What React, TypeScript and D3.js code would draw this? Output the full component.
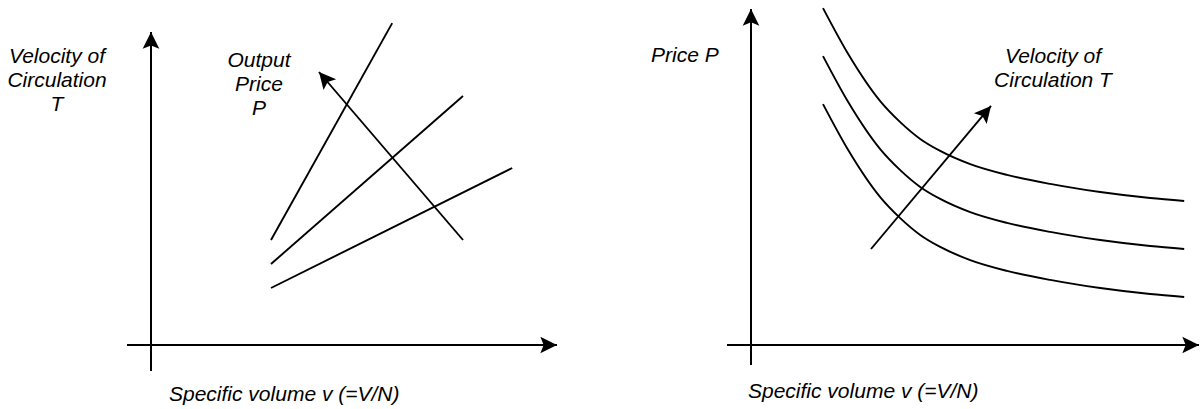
import React from "react";
import * as d3 from "d3";

// ---- left panel: velocity T vs specific volume v, one line per output price P ----
// each line is [v, T] at its two ends
const priceLineHigh = [[3.0, 3.5], [6.03, 10.73]];
const priceLineMid = [[3.0, 2.7], [7.8, 8.3]];
const priceLineLow = [[3.0, 1.9], [9.03, 5.9]];
const priceArrow = [[7.8, 3.5], [4.2, 9.1]];
const leftVRange = [-0.6, 10.15];
const leftTRange = [-0.87, 10.43];

// ---- right panel: price P vs specific volume v, one curve per velocity T ----
const volume = [1.8, 2.43, 3.23, 3.73, 4.23, 4.73, 5.48, 6.4, 7.48, 8.73, 9.98, 10.83];
const priceHighT = [11.23, 9.7, 8.13, 7.43, 6.87, 6.47, 6.03, 5.67, 5.37, 5.1, 4.9, 4.8];
const priceMidT = [9.63, 8.1, 6.53, 5.83, 5.27, 4.87, 4.43, 4.07, 3.77, 3.5, 3.3, 3.2];
const priceLowT = [8.03, 6.5, 4.93, 4.23, 3.67, 3.27, 2.83, 2.47, 2.17, 1.9, 1.7, 1.6];
const velocityArrow = [[3.0, 3.2], [6.0, 7.97]];
const rightVRange = [-0.6, 11.2];
const rightPRange = [-0.67, 11.2];

const FONT = "'Liberation Sans', Arial, sans-serif";
const fontSize = 21;

function Label({ x, y, lines, anchor = "middle", gap = 24 }) {
  return (
    <text
      x={x}
      y={y}
      textAnchor={anchor}
      fontFamily={FONT}
      fontStyle="italic"
      fontSize={fontSize}
      fill="#000"
    >
      {lines.map((l, i) => (
        <tspan key={i} x={x} dy={i === 0 ? 0 : gap}>
          {l}
        </tspan>
      ))}
    </text>
  );
}

export default function App() {
  // left scales
  var xL = d3.scaleLinear().domain([0, 10]).range([151, 551]);
  var yL = d3.scaleLinear().domain([0, 10]).range([345, 45]);
  // right scales
  var xR = d3.scaleLinear().domain([0, 10]).range([751, 1151]);
  var yR = d3.scaleLinear().domain([0, 10]).range([345, 45]);

  var lineL = d3
    .line()
    .x(d => xL(d[0]))
    .y(d => yL(d[1]));
  var lineR = d3
    .line()
    .x(d => xR(d[0]))
    .y(d => yR(d[1]));
  var curveR = d3
    .line()
    .x(d => xR(d[0]))
    .y(d => yR(d[1]))
    .curve(d3.curveMonotoneX);

  var curves = [priceHighT, priceMidT, priceLowT].map(s =>
    volume.map((v, i) => [v, s[i]])
  );

  var axisStyle = { stroke: "#000", strokeWidth: 2, fill: "none" };
  var markStyle = { stroke: "#000", strokeWidth: 1.9, fill: "none" };

  return (
    <svg
      width={1202}
      height={409}
      style={{ position: "absolute", left: 0, top: 0, background: "#fff" }}
    >
      <defs>
        <marker
          id="arrow"
          markerUnits="userSpaceOnUse"
          markerWidth={20}
          markerHeight={20}
          viewBox="-16 -9 18 18"
          refX={0}
          refY={0}
          orient="auto"
        >
          <path d="M0,0 L-15,-7.5 L-12,0 L-15,7.5 Z" fill="#000" />
        </marker>
      </defs>

      {/* left panel axes */}
      <path
        d={lineL([[leftVRange[0], 0], [leftVRange[1], 0]])}
        style={axisStyle}
        markerEnd="url(#arrow)"
      />
      <path
        d={lineL([[0, leftTRange[0]], [0, leftTRange[1]]])}
        style={axisStyle}
        markerEnd="url(#arrow)"
      />
      {[priceLineHigh, priceLineMid, priceLineLow].map((l, i) => (
        <path key={i} d={lineL(l)} style={markStyle} />
      ))}
      <path d={lineL(priceArrow)} style={markStyle} markerEnd="url(#arrow)" />

      <Label x={57} y={63} lines={["Velocity of", "Circulation", "T"]} />
      <Label x={259} y={67} lines={["Output", "Price", "P"]} />
      <Label x={169} y={401} anchor="start" lines={["Specific volume v (=V/N)"]} />

      {/* right panel axes */}
      <path
        d={lineR([[rightVRange[0], 0], [rightVRange[1], 0]])}
        style={axisStyle}
        markerEnd="url(#arrow)"
      />
      <path
        d={lineR([[0, rightPRange[0]], [0, rightPRange[1]]])}
        style={axisStyle}
        markerEnd="url(#arrow)"
      />
      {curves.map((c, i) => (
        <path key={i} d={curveR(c)} style={markStyle} />
      ))}
      <path d={lineR(velocityArrow)} style={markStyle} markerEnd="url(#arrow)" />

      <Label x={651} y={62} anchor="start" lines={["Price P"]} />
      <Label x={1053} y={63} lines={["Velocity of", "Circulation T"]} />
      <Label x={748} y={398} anchor="start" lines={["Specific volume v (=V/N)"]} />
    </svg>
  );
}
